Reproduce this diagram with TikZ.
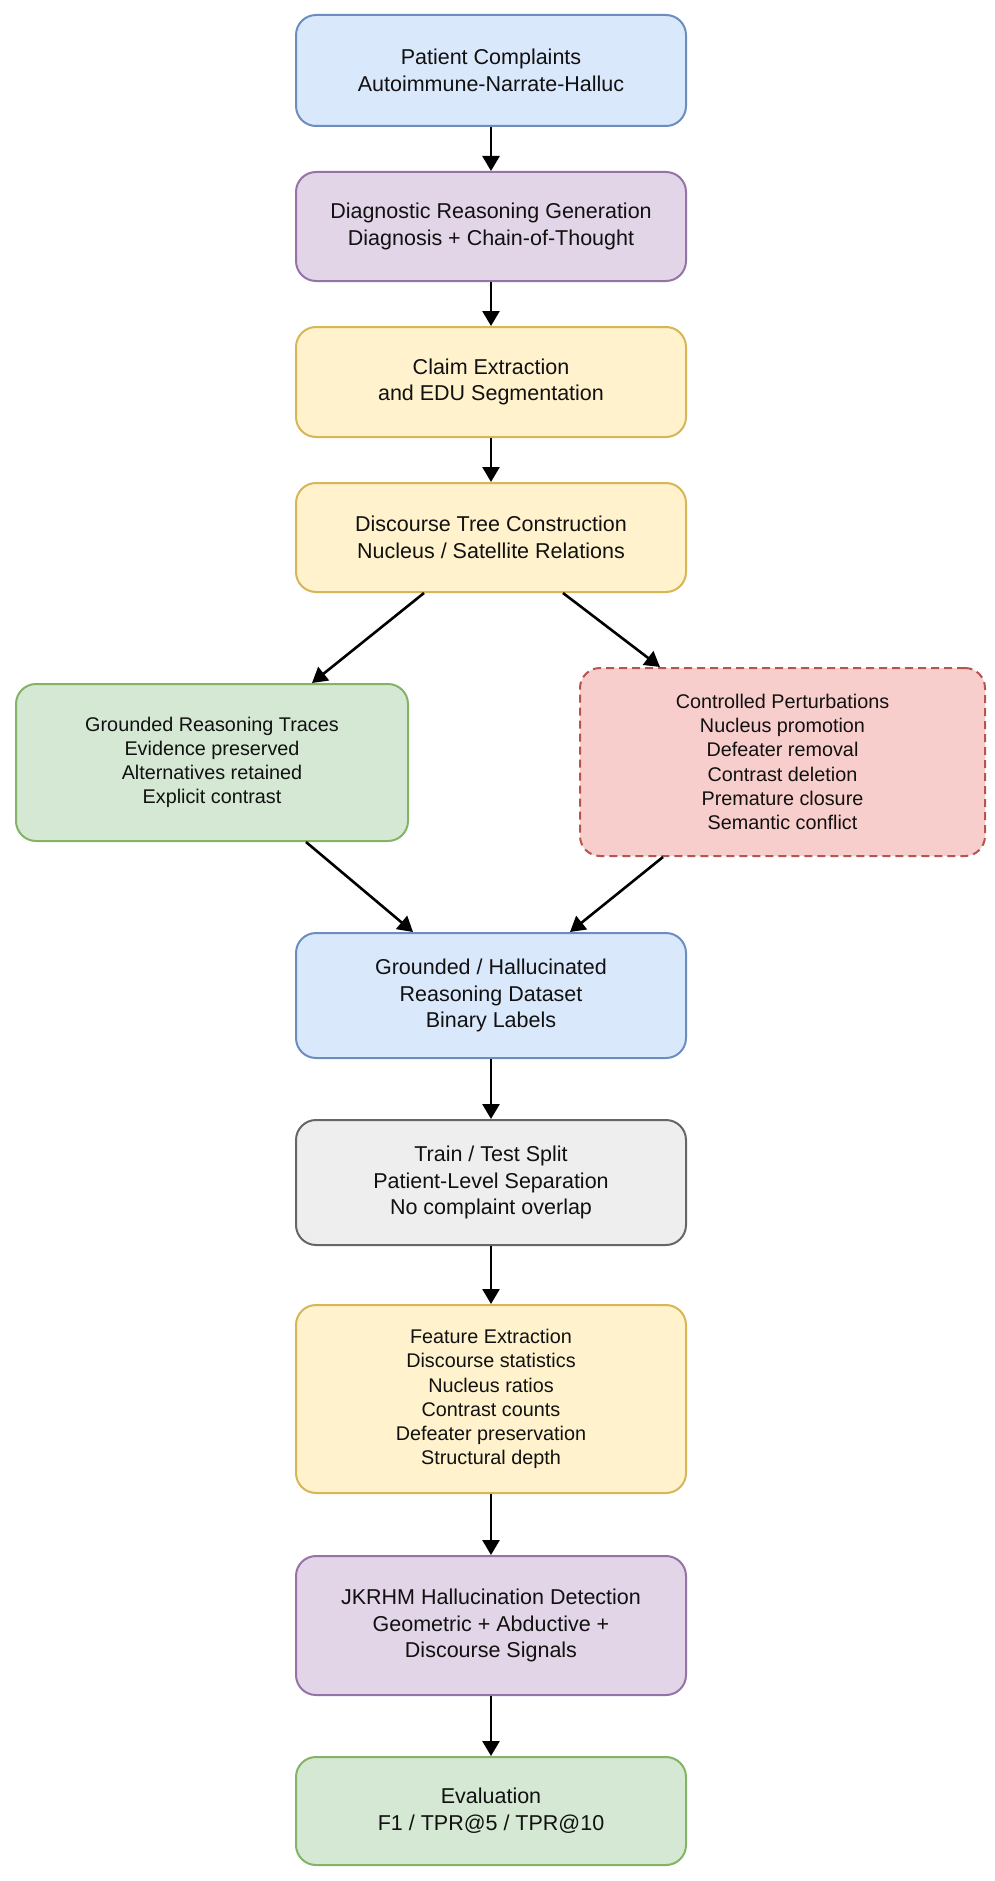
\documentclass[tikz,border=0pt]{standalone}
\usepackage{fontspec}
\setmainfont{Liberation Sans}
\usetikzlibrary{arrows.meta,calc}
\definecolor{bluefill}{HTML}{DAE8FC}\definecolor{bluedraw}{HTML}{6C8EBF}
\definecolor{purfill}{HTML}{E1D5E7}\definecolor{purdraw}{HTML}{9673A6}
\definecolor{yelfill}{HTML}{FFF2CC}\definecolor{yeldraw}{HTML}{D6B656}
\definecolor{grnfill}{HTML}{D5E8D4}\definecolor{grndraw}{HTML}{82B366}
\definecolor{redfill}{HTML}{F8CECC}\definecolor{reddraw}{HTML}{B85450}
\definecolor{gryfill}{HTML}{EEEEEE}\definecolor{grydraw}{HTML}{666666}
\definecolor{txt}{HTML}{111111}
\tikzset{
  box/.style={draw, line width=2pt, rounded corners=20pt, align=center, text=txt,
    minimum width=390pt, inner sep=0pt, font=\fontsize{21.5}{26.8}\selectfont},
  small/.style={font=\fontsize{19.8}{24.2}\selectfont},
  blu/.style={box, fill=bluefill, draw=bluedraw},
  pur/.style={box, fill=purfill, draw=purdraw},
  yel/.style={box, fill=yelfill, draw=yeldraw},
  grn/.style={box, fill=grnfill, draw=grndraw},
  rdd/.style={box, fill=redfill, draw=reddraw, dash pattern=on 8pt off 5pt},
  gry/.style={box, fill=gryfill, draw=grydraw},
  arr/.style={line width=2.6pt, -{Triangle[length=15pt,width=17pt]}}
}
\begin{document}
\begin{tikzpicture}[x=1pt,y=-1pt]
\useasboundingbox (0,0) rectangle (995,1881);
\node[blu, minimum height=111pt] (b1) at (491,70.5) {Patient Complaints\\Autoimmune-Narrate-Halluc};
\node[pur, minimum height=109pt] (b2) at (491,226.5) {Diagnostic Reasoning Generation\\Diagnosis + Chain-of-Thought};
\node[yel, minimum height=110pt] (b3) at (491,382) {Claim Extraction\\and EDU Segmentation};
\node[yel, minimum height=109pt] (b4) at (491,537.5) {Discourse Tree Construction\\Nucleus / Satellite Relations};
\node[grn, small, minimum width=392pt, minimum height=157pt] (gr) at (212,762.5) {Grounded Reasoning Traces\\Evidence preserved\\Alternatives retained\\Explicit contrast};
\node[rdd, small, minimum width=405pt, minimum height=188pt] (pe) at (782.5,762) {Controlled Perturbations\\Nucleus promotion\\Defeater removal\\Contrast deletion\\Premature closure\\Semantic conflict};
\node[blu, minimum height=125pt] (b6) at (491,995.5) {Grounded / Hallucinated\\Reasoning Dataset\\Binary Labels};
\node[gry, minimum height=125pt] (b7) at (491,1182.5) {Train / Test Split\\Patient-Level Separation\\No complaint overlap};
\node[yel, small, minimum height=188pt] (b8) at (491,1399) {Feature Extraction\\Discourse statistics\\Nucleus ratios\\Contrast counts\\Defeater preservation\\Structural depth};
\node[pur, minimum height=139pt] (b9) at (491,1625.5) {JKRHM Hallucination Detection\\Geometric + Abductive +\\Discourse Signals};
\node[grn, minimum height=108pt] (b10) at (491,1811) {Evaluation\\F1 / TPR@5 / TPR@10};
\draw[arr] (b1) -- (b2);
\draw[arr] (b2) -- (b3);
\draw[arr] (b3) -- (b4);
\draw[arr] ($(b4.south)+(-67,0)$) -- ($(gr.north)+(100,0)$);
\draw[arr] ($(b4.south)+(72,0)$) -- ($(pe.north)+(-122.5,0)$);
\draw[arr] ($(gr.south)+(94,0)$) -- ($(b6.north)+(-78,0)$);
\draw[arr] ($(pe.south)+(-119.5,0)$) -- ($(b6.north)+(79,0)$);
\draw[arr] (b6) -- (b7);
\draw[arr] (b7) -- (b8);
\draw[arr] (b8) -- (b9);
\draw[arr] (b9) -- (b10);
\end{tikzpicture}
\end{document}
